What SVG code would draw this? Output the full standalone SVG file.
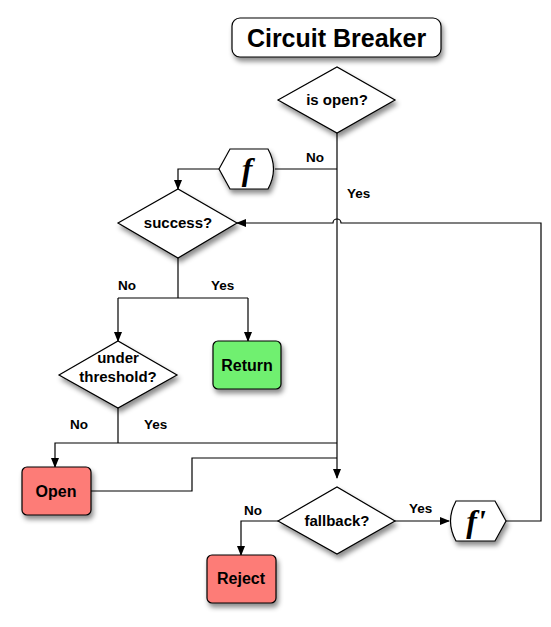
<svg xmlns="http://www.w3.org/2000/svg" width="551" height="627" viewBox="0 0 551 627">
<style>
text{font-family:"Liberation Sans",Arial,sans-serif;font-weight:bold;fill:#000}
.t{font-size:15px;text-anchor:middle}
.lbl{font-size:13.5px}
.b{font-size:16px;text-anchor:middle}
.sh{stroke:#000;stroke-width:1.2;filter:url(#ds)}
.c{fill:none;stroke:#000;stroke-width:1.2}
.fx{font-family:"Liberation Serif","Times New Roman",serif;font-style:italic;font-weight:bold;font-size:32px;text-anchor:middle}
</style>
<defs>
<filter id="ds" x="-20%" y="-20%" width="150%" height="160%">
<feDropShadow dx="2" dy="4" stdDeviation="2.5" flood-color="#000" flood-opacity="0.45"/>
</filter>
<marker id="ar" markerWidth="10" markerHeight="8" refX="9" refY="4" orient="auto" markerUnits="userSpaceOnUse">
<path d="M0,0 L10,4 L0,8 Z" fill="#000"/>
</marker>
</defs>
<rect width="551" height="627" fill="#fff"/>
<g id="connectors">
<path class="c" d="M337,133 V478" marker-end="url(#ar)"/>
<path class="c" d="M337,169 H275"/>
<path class="c" d="M219,169 H178 V189" marker-end="url(#ar)"/>
<path class="c" d="M506,521 H541 V223 H341 A4,4 0 0 0 333,223 H237" marker-end="url(#ar)"/>
<path class="c" d="M178,258 V298"/>
<path class="c" d="M118,298 H248"/>
<path class="c" d="M118,298 V341" marker-end="url(#ar)"/>
<path class="c" d="M248,298 V341" marker-end="url(#ar)"/>
<path class="c" d="M118,408 V443"/>
<path class="c" d="M337,443 H55 V467" marker-end="url(#ar)"/>
<path class="c" d="M91,491 H192 V458 H337"/>
<path class="c" d="M278,521 H241 V555" marker-end="url(#ar)"/>
<path class="c" d="M395,521 H449" marker-end="url(#ar)"/>
<text class="lbl" x="306" y="162">No</text>
<text class="lbl" x="347" y="198">Yes</text>
<text class="lbl" x="118" y="290">No</text>
<text class="lbl" x="211" y="290">Yes</text>
<text class="lbl" x="70" y="429">No</text>
<text class="lbl" x="144" y="429">Yes</text>
<text class="lbl" x="244" y="515">No</text>
<text class="lbl" x="409" y="513">Yes</text>
</g>
<g id="title">
<rect class="sh" x="232" y="18" width="209" height="39" rx="8" fill="#fff"/>
<text x="336.5" y="46.5" font-size="25" text-anchor="middle">Circuit Breaker</text>
</g>
<g id="is-open">
<polygon class="sh" points="278,100 337,67 395,100 337,133" fill="#fff"/>
<text class="t" x="337" y="105">is open?</text>
</g>
<g id="f">
<path class="sh" d="M219,169 L230,149 H268 Q279,169 268,189 H230 Z" fill="#fff"/>
<text class="fx" x="247" y="180">f</text>
</g>
<g id="success">
<polygon class="sh" points="118,223 178,189 237,223 178,258" fill="#fff"/>
<text class="t" x="178" y="228">success?</text>
</g>
<g id="return">
<rect class="sh" x="213" y="341" width="68" height="48" rx="5" fill="#70f070"/>
<text class="b" x="247" y="371">Return</text>
</g>
<g id="under-threshold">
<polygon class="sh" points="59,375 118,341 177,375 118,408" fill="#fff"/>
<text class="t" x="118" y="363">under</text>
<text class="t" x="118" y="382">threshold?</text>
</g>
<g id="open">
<rect class="sh" x="22" y="467" width="69" height="48" rx="5" fill="#fd7b77"/>
<text class="b" x="56" y="497">Open</text>
</g>
<g id="fallback">
<polygon class="sh" points="278,521 337,487 395,521 337,554" fill="#fff"/>
<text class="t" x="337" y="526">fallback?</text>
</g>
<g id="reject">
<rect class="sh" x="207" y="555" width="69" height="48" rx="5" fill="#fd7b77"/>
<text class="b" x="241" y="584">Reject</text>
</g>
<g id="f-prime">
<path class="sh" d="M506,521 L495,501 H456 Q445,521 456,541 H495 Z" fill="#fff"/>
<text class="fx" x="476" y="532">f'</text>
</g>
</svg>
